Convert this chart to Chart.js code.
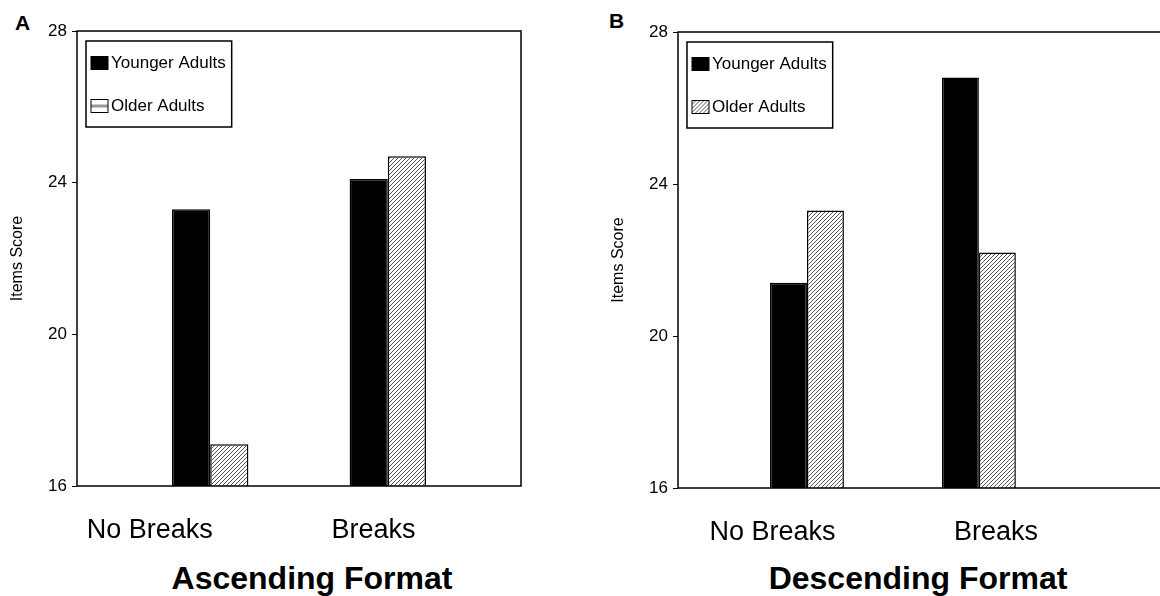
<!DOCTYPE html>
<html>
<head>
<meta charset="utf-8">
<script src="https://cdn.jsdelivr.net/npm/chart.js@4.4.1/dist/chart.umd.min.js"></script>
<style>
    html, body { margin: 0; padding: 0; background: #fff; }
    body {
        width: 1160px; height: 596px; overflow: hidden; position: relative;
        font-family: "Liberation Sans", Arial, sans-serif; color: #000;
    }
    canvas { position: absolute; top: 0; }
    .letter { position: absolute; font-weight: bold; font-size: 21px; line-height: 21px; }
    .caption { position: absolute; width: 400px; text-align: center; font-weight: bold; font-size: 32px; line-height: 32px; }
</style>
</head>
<body>
<div class="letter" style="left:15px;top:12px">A</div>
<div class="letter" style="left:609px;top:10px">B</div>
<canvas id="chartA" width="540" height="550" style="left:0;width:540px;height:550px"></canvas>
<canvas id="chartB" width="570" height="552" style="left:601px;width:570px;height:552px"></canvas>
<div class="caption" style="left:112px;top:562px">Ascending Format</div>
<div class="caption" style="left:718px;top:562px">Descending Format</div>

<script>
// Données
const categories = ["No Breaks", "Breaks"];
const seriesNames = ["Younger Adults", "Older Adults"];
const ascYounger = [23.3, 24.1];
const ascOlder = [17.1, 24.7];
const descYounger = [21.4, 26.8];
const descOlder = [23.3, 22.2];
const yTicks = [16, 20, 24, 28];

const FONT = '"Liberation Sans", Arial, sans-serif';

function makeHatch() {
    const c = document.createElement("canvas");
    c.width = 4; c.height = 4;
    const g = c.getContext("2d");
    g.fillStyle = "#fff";
    g.fillRect(0, 0, 4, 4);
    g.strokeStyle = "#444";
    g.lineWidth = 0.9;
    g.beginPath();
    g.moveTo(-1, 5); g.lineTo(5, -1);
    g.moveTo(-1, 1); g.lineTo(1, -1);
    g.moveTo(3, 5); g.lineTo(5, 3);
    g.stroke();
    return g.createPattern(c, "repeat");
}

function makeLines() {
    // petit motif horizontal du carré de légende en A
    const c = document.createElement("canvas");
    c.width = 17; c.height = 13;
    const g = c.getContext("2d");
    g.fillStyle = "#fff";
    g.fillRect(0, 0, 17, 13);
    g.fillStyle = "#999";
    g.fillRect(0, 5, 17, 3);
    return g.createPattern(c, "no-repeat");
}

const hatch = makeHatch();

// cadre complet autour de la zone de tracé
const framePlugin = {
    id: "frame",
    afterDatasetsDraw(chart) {
        const { ctx, chartArea: a } = chart;
        ctx.save();
        ctx.strokeStyle = "#000";
        ctx.lineWidth = 1.5;
        ctx.strokeRect(a.left, a.top, a.right - a.left, a.bottom - a.top);
        ctx.restore();
    },
};

// légende encadrée dans le coin haut gauche
const boxLegend = {
    id: "boxLegend",
    afterDraw(chart, args, opts) {
        const { ctx, chartArea: a } = chart;
        const sets = chart.data.datasets;
        ctx.save();
        ctx.font = "17px " + FONT;
        const textW = Math.max(...sets.map((d) => ctx.measureText(d.label).width));
        const x = a.left + 9, y = a.top + 10;
        const w = 25 + textW + 6, h = 86;
        ctx.fillStyle = "#fff";
        ctx.fillRect(x, y, w, h);
        ctx.strokeStyle = "#000";
        ctx.lineWidth = 1.5;
        ctx.strokeRect(x, y, w, h);
        sets.forEach((ds, i) => {
            const cy = y + 22 + i * 43;
            ctx.save();
            ctx.translate(x + 5, cy - 6.5);
            ctx.fillStyle = (opts.swatches && opts.swatches[i]) || ds.backgroundColor;
            ctx.fillRect(0, 0, 17, 13);
            ctx.lineWidth = 1;
            ctx.strokeRect(0, 0, 17, 13);
            ctx.restore();
            ctx.fillStyle = "#000";
            ctx.textBaseline = "middle";
            ctx.fillText(ds.label, x + 25, cy);
        });
        ctx.restore();
    },
};

function makeChart(el, younger, older, cfg) {
    const toPoints = (arr) => arr.map((v, i) => ({ x: i, y: v }));
    return new Chart(el, {
        type: "bar",
        data: {
            datasets: [
                {
                    label: seriesNames[0],
                    data: toPoints(younger),
                    backgroundColor: "#000",
                    borderColor: "#000",
                    borderWidth: 1.5,
                },
                {
                    label: seriesNames[1],
                    data: toPoints(older),
                    backgroundColor: hatch,
                    borderColor: "#000",
                    borderWidth: 1.5,
                },
            ],
        },
        options: {
            responsive: false,
            animation: false,
            categoryPercentage: 0.43,
            barPercentage: 1,
            layout: { padding: { left: 0, top: cfg.top, right: cfg.right, bottom: 0 } },
            plugins: {
                legend: { display: false },
                tooltip: { enabled: false },
                boxLegend: { swatches: cfg.swatches },
            },
            scales: {
                x: {
                    type: "linear",
                    min: -0.75,
                    max: cfg.xMax,
                    offset: false,
                    beginAtZero: false,
                    grid: { display: false, offset: false },
                    border: { display: false },
                    afterBuildTicks: (s) => { s.ticks = cfg.labelAt.map((v) => ({ value: v })); },
                    afterFit: (s) => { s.height = cfg.xHeight; },
                    ticks: {
                        autoSkip: false,
                        maxRotation: 0,
                        padding: 20,
                        color: "#000",
                        font: { family: FONT, size: 27 },
                        callback: (v, i) => categories[i],
                    },
                },
                y: {
                    min: 16,
                    max: 28,
                    beginAtZero: false,
                    afterBuildTicks: (s) => { s.ticks = yTicks.map((v) => ({ value: v })); },
                    afterFit: (s) => { s.width = 77; },
                    grid: { drawOnChartArea: false, drawTicks: true, tickLength: 5, color: "#000" },
                    border: { display: false },
                    ticks: { padding: 5, color: "#000", font: { family: FONT, size: 17 } },
                    title: {
                        display: true,
                        text: "Items Score",
                        color: "#000",
                        padding: { top: 8, bottom: 0 },
                        font: { family: FONT, size: 16 },
                    },
                },
            },
        },
        plugins: [framePlugin, boxLegend],
    });
}

makeChart(document.getElementById("chartA"), ascYounger, ascOlder, {
    top: 31, right: 19, xMax: 1.75, xHeight: 64,
    labelAt: [-0.34, 0.92],
    swatches: ["#000", makeLines()],
});

makeChart(document.getElementById("chartB"), descYounger, descOlder, {
    top: 32, right: 3, xMax: 2.1, xHeight: 64,
    labelAt: [-0.2, 1.1],
    swatches: null,
});
</script>
</body>
</html>
